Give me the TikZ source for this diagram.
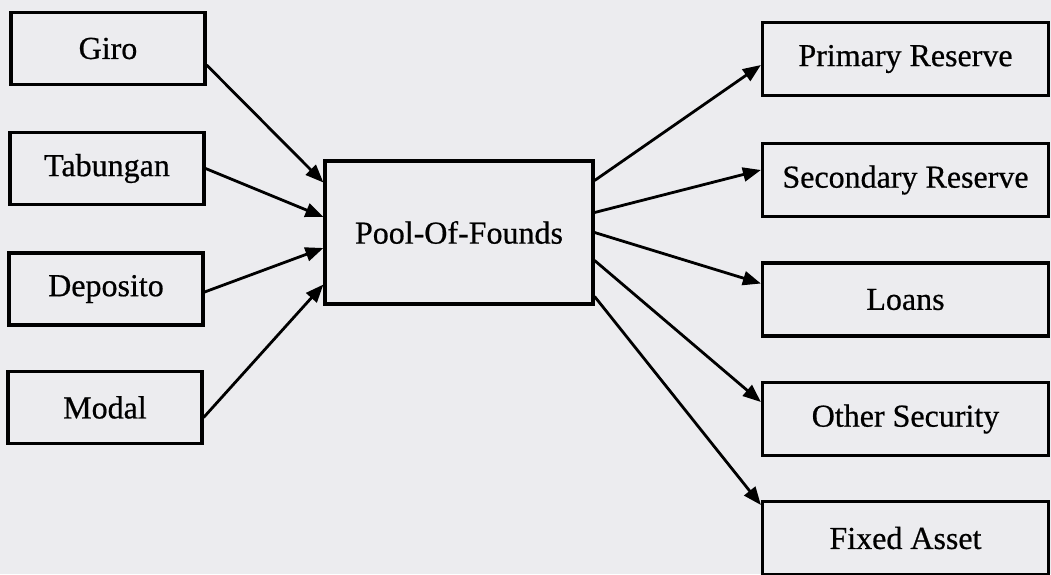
\documentclass[tikz,border=0pt]{standalone}
\usepackage{fontspec}
\setmainfont{Liberation Serif}[FakeBold=0.6]
\usetikzlibrary{arrows.meta}

\definecolor{paper}{RGB}{236,236,239}

\begin{document}
\begin{tikzpicture}[x=0.5pt,y=-0.5pt,
      box/.style={draw, line width=1.6pt, fill=paper, inner sep=0pt,
                  font=\fontsize{16}{19}\selectfont},
      srcbox/.style={box, minimum width=97pt, minimum height=36pt},
      usebox/.style={box, minimum width=143pt, minimum height=36.5pt},
      flow/.style={line width=1.4pt, -{Triangle[length=9pt,width=7pt]}}]

      \useasboundingbox[fill=paper] (0,0) rectangle (1051,574);

      % sources of funds
      \node[srcbox] (giro) at (108,48.5) {Giro};
      \node[srcbox] (tabungan) at (107,168.5) {Tabungan};
      \node[srcbox] (deposito) at (106,289) {Deposito};
      \node[srcbox] (modal) at (105,407.5) {Modal};

      % pool
      \node[box, minimum width=134pt, minimum height=71.5pt] (pool) at (459,232.5) {Pool-Of-Founds};

      % uses of funds
      \node[usebox] (primary) at (905.5,59) {Primary Reserve};
      \node[usebox] (secondary) at (905.5,180) {Secondary Reserve};
      \node[usebox] (loans) at (905.5,299.5) {Loans};
      \node[usebox] (other) at (905.5,419) {Other Security};
      \node[usebox] (fixed) at (905.5,538) {Fixed Asset};

      \draw[flow] ([yshift=-8.25pt]giro.east) -- ([yshift=25pt]pool.west);
      \draw[flow] (tabungan.east) -- ([yshift=7.75pt]pool.west);
      \draw[flow] ([yshift=-1.5pt]deposito.east) -- ([yshift=-7.75pt]pool.west);
      \draw[flow] ([yshift=-5pt]modal.east) -- ([yshift=-26pt]pool.west);

      \draw[flow] ([yshift=26pt]pool.east) -- ([yshift=-3pt]primary.west);
      \draw[flow] ([yshift=10pt]pool.east) -- ([yshift=5pt]secondary.west);
      \draw[flow] (pool.east) -- ([yshift=8pt]loans.west);
      \draw[flow] ([yshift=-14pt]pool.east) -- ([yshift=8.5pt]other.west);
      \draw[flow] ([yshift=-32pt]pool.east) -- ([yshift=16.5pt]fixed.west);
      \end{tikzpicture}
\end{document}
